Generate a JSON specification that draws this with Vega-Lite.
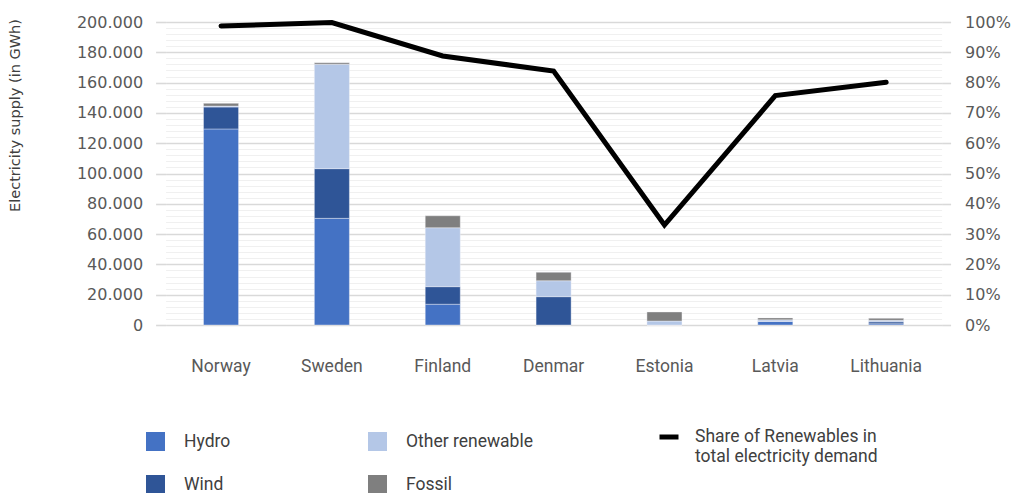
{
  "$schema": "https://vega.github.io/schema/vega-lite/v6.json",
  "width": 776,
  "height": 303,
  "autosize": {"type": "none"},
  "padding": {"left": 165.6, "top": 22, "right": 75.4, "bottom": 168},
  "config": {
    "locale": {"number": {"decimal": ",", "thousands": ".", "grouping": [3], "currency": ["", ""]}},
    "view": {"stroke": null},
    "font": "DejaVu Sans"
  },
  "datasets": {
    "supply": [
      {"country": "Norway", "source": "Hydro", "gwh": 129400},
      {"country": "Norway", "source": "Wind", "gwh": 14500},
      {"country": "Norway", "source": "Other renewable", "gwh": 600},
      {"country": "Norway", "source": "Fossil", "gwh": 1800},
      {"country": "Sweden", "source": "Hydro", "gwh": 70400},
      {"country": "Sweden", "source": "Wind", "gwh": 32800},
      {"country": "Sweden", "source": "Other renewable", "gwh": 68900},
      {"country": "Sweden", "source": "Fossil", "gwh": 1000},
      {"country": "Finland", "source": "Hydro", "gwh": 13700},
      {"country": "Finland", "source": "Wind", "gwh": 11600},
      {"country": "Finland", "source": "Other renewable", "gwh": 38900},
      {"country": "Finland", "source": "Fossil", "gwh": 7900},
      {"country": "Denmar", "source": "Hydro", "gwh": 0},
      {"country": "Denmar", "source": "Wind", "gwh": 18700},
      {"country": "Denmar", "source": "Other renewable", "gwh": 10500},
      {"country": "Denmar", "source": "Fossil", "gwh": 5600},
      {"country": "Estonia", "source": "Hydro", "gwh": 0},
      {"country": "Estonia", "source": "Wind", "gwh": 0},
      {"country": "Estonia", "source": "Other renewable", "gwh": 2600},
      {"country": "Estonia", "source": "Fossil", "gwh": 6000},
      {"country": "Latvia", "source": "Hydro", "gwh": 2400},
      {"country": "Latvia", "source": "Wind", "gwh": 100},
      {"country": "Latvia", "source": "Other renewable", "gwh": 900},
      {"country": "Latvia", "source": "Fossil", "gwh": 1300},
      {"country": "Lithuania", "source": "Hydro", "gwh": 800},
      {"country": "Lithuania", "source": "Wind", "gwh": 1300},
      {"country": "Lithuania", "source": "Other renewable", "gwh": 1000},
      {"country": "Lithuania", "source": "Fossil", "gwh": 1300}
    ],
    "share": [
      {"country": "Norway", "share": 0.987, "series": "Share of Renewables in total electricity demand"},
      {"country": "Sweden", "share": 0.998, "series": "Share of Renewables in total electricity demand"},
      {"country": "Finland", "share": 0.888, "series": "Share of Renewables in total electricity demand"},
      {"country": "Denmar", "share": 0.838, "series": "Share of Renewables in total electricity demand"},
      {"country": "Estonia", "share": 0.330, "series": "Share of Renewables in total electricity demand"},
      {"country": "Latvia", "share": 0.757, "series": "Share of Renewables in total electricity demand"},
      {"country": "Lithuania", "share": 0.801, "series": "Share of Renewables in total electricity demand"}
    ]
  },
  "layer": [
    {
      "data": {"name": "supply"},
      "transform": [
        {"calculate": "indexof(['Hydro','Wind','Other renewable','Fossil'], datum.source)", "as": "stack_order"}
      ],
      "mark": {"type": "bar", "stroke": "#f4f6fb", "strokeWidth": 0.4},
      "encoding": {
        "x": {
          "field": "country", "type": "nominal",
          "sort": ["Norway", "Sweden", "Finland", "Denmar", "Estonia", "Latvia", "Lithuania"],
          "scale": {"paddingInner": 0.684, "paddingOuter": 0.342},
          "axis": {
            "title": null, "domain": false, "ticks": false, "labelAngle": 0,
            "labelPadding": 32, "labelFont": "Roboto", "labelFontSize": 17.5, "labelColor": "#595959"
          }
        },
        "y": {
          "field": "gwh", "type": "quantitative", "stack": "zero",
          "scale": {"domain": [0, 200000], "nice": false},
          "axis": {
            "title": "Electricity supply (in GWh)",
            "titleFont": "DejaVu Sans", "titleFontSize": 14.5, "titleFontWeight": "normal", "titleColor": "#404040",
            "titleAngle": -90, "titleAlign": "center", "titleBaseline": "middle", "titleX": -150, "titleY": 93,
            "values": [0,4000,8000,12000,16000,20000,24000,28000,32000,36000,40000,44000,48000,52000,56000,60000,64000,68000,72000,76000,80000,84000,88000,92000,96000,100000,104000,108000,112000,116000,120000,124000,128000,132000,136000,140000,144000,148000,152000,156000,160000,164000,168000,172000,176000,180000,184000,188000,192000,196000,200000],
            "format": ",.0f",
            "labelExpr": "datum.value % 20000 === 0 ? datum.label : ''",
            "labelOverlap": false, "labelBound": false,
            "labelFont": "DejaVu Sans", "labelFontSize": 16, "labelColor": "#595959", "labelPadding": 13,
            "domain": false,
            "grid": true,
            "gridColor": {"condition": {"test": "datum.value % 20000 === 0", "value": "#d9d9d9"}, "value": "#f0f0f0"},
            "gridWidth": {"condition": {"test": "datum.value % 20000 === 0", "value": 1.6}, "value": 1.2},
            "tickColor": {"condition": {"test": "datum.value % 20000 === 0", "value": "#d9d9d9"}, "value": "transparent"},
            "tickWidth": 1.6, "tickSize": 10
          }
        },
        "color": {
          "field": "source", "type": "nominal",
          "scale": {"domain": ["Hydro", "Other renewable", "Wind", "Fossil"], "range": ["#4472C4", "#B4C7E7", "#2F5597", "#7F7F7F"]},
          "legend": {
            "title": null, "orient": "none", "legendX": -19.6, "legendY": 410,
            "direction": "horizontal", "columns": 2, "columnPadding": 137, "rowPadding": 24,
            "symbolType": "square", "symbolSize": 361, "symbolStrokeWidth": 0,
            "labelFont": "Roboto", "labelFontSize": 17.5, "labelColor": "#404040", "labelOffset": 19, "labelLimit": 300,
            "encode": {"symbols": {
              "enter": {"fill": {"signal": "datum.value === 'Hydro' ? '#1A73CC' : datum.value === 'Wind' ? '#0B559E' : datum.value === 'Other renewable' ? '#AFC8EA' : '#808080'"}},
              "update": {"fill": {"signal": "datum.value === 'Hydro' ? '#1A73CC' : datum.value === 'Wind' ? '#0B559E' : datum.value === 'Other renewable' ? '#AFC8EA' : '#808080'"}}
            }}
          }
        },
        "order": {"field": "stack_order", "type": "quantitative"}
      }
    },
    {
      "data": {"name": "share"},
      "mark": {"type": "line", "strokeWidth": 5, "strokeCap": "round", "strokeJoin": "miter"},
      "encoding": {
        "x": {
          "field": "country", "type": "nominal",
          "sort": ["Norway", "Sweden", "Finland", "Denmar", "Estonia", "Latvia", "Lithuania"]
        },
        "y": {
          "field": "share", "type": "quantitative",
          "scale": {"domain": [0, 1], "nice": false},
          "axis": {
            "orient": "right", "title": null,
            "values": [0, 0.1, 0.2, 0.3, 0.4, 0.5, 0.6, 0.7, 0.8, 0.9, 1],
            "format": ".0%", "domain": false, "grid": false,
            "tickColor": "#d9d9d9", "tickWidth": 1.6, "tickSize": 9,
            "labelFont": "DejaVu Sans", "labelFontSize": 16, "labelColor": "#595959", "labelPadding": 14,
            "labelOverlap": false, "labelBound": false
          }
        },
        "stroke": {
          "field": "series", "type": "nominal",
          "scale": {"range": ["#000000"]},
          "legend": {
            "title": null, "orient": "none", "legendX": 491.4, "legendY": 403,
            "symbolType": "stroke", "symbolSize": 361, "symbolStrokeWidth": 5,
            "labelFont": "Roboto", "labelFontSize": 17.5, "labelColor": "#404040", "labelOffset": 14, "labelLimit": 300,
            "labelExpr": "['Share of Renewables in', 'total electricity demand']"
          }
        }
      }
    }
  ],
  "resolve": {"scale": {"y": "independent"}}
}
